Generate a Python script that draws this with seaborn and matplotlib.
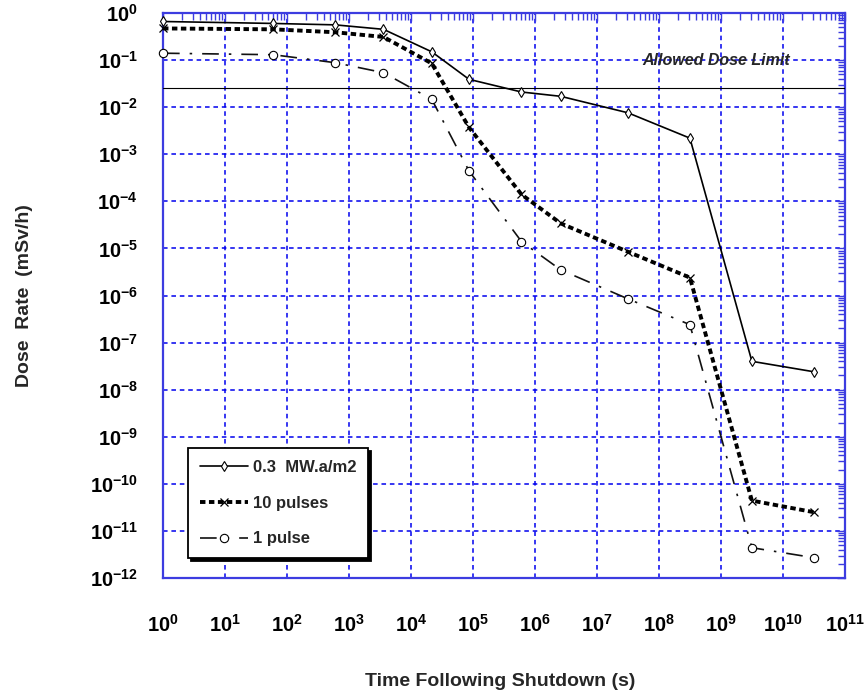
import numpy as np
import pandas as pd
import matplotlib
matplotlib.use("Agg")
import matplotlib.pyplot as plt
import matplotlib.ticker as mticker
import seaborn as sns

# ---------------- data ----------------
time_s = [1, 60, 600, 3600, 21600, 86400, 6.05e5, 2.6e6, 3.15e7, 3.15e8, 3.15e9, 3.15e10]
dose_03mwa = [0.66, 0.60, 0.56, 0.45, 0.15, 0.039, 0.021, 0.017, 0.0076, 0.0022, 4.0e-8, 2.4e-8]
dose_10pulses = [0.47, 0.45, 0.39, 0.31, 0.085, 0.0037, 1.4e-4, 3.4e-5, 8.5e-6, 2.4e-6, 4.4e-11, 2.5e-11]
dose_1pulse = [0.14, 0.13, 0.088, 0.054, 0.0147, 4.4e-4, 1.4e-5, 3.5e-6, 8.5e-7, 2.4e-7, 4.4e-12, 2.7e-12]
series_labels = ["0.3  MW.a/m2", "10 pulses", "1 pulse"]
dose_limit = 0.025
limit_label = "Allowed Dose Limit"
x_exponents = list(range(0, 12))
y_exponents = list(range(-12, 1))
x_title = "Time Following Shutdown (s)"
y_title = "Dose  Rate  (mSv/h)"

# ---------------- style ----------------
sns.set_style("white")
plt.rcParams["font.family"] = ["Liberation Sans", "DejaVu Sans"]
plt.rcParams["font.weight"] = "bold"
plt.rcParams["mathtext.fontset"] = "custom"
plt.rcParams["mathtext.rm"] = "Liberation Sans:bold"
plt.rcParams["mathtext.bf"] = "Liberation Sans:bold"
plt.rcParams["mathtext.it"] = "Liberation Sans:bold:italic"

spine_blue = "#3c3ce0"
grid_blue = "#0000ee"

fig = plt.figure(figsize=(8.65, 6.98), dpi=100)
ax = fig.add_axes([163 / 865, 1 - 578 / 698, (845 - 163) / 865, (578 - 13) / 698])

df = pd.DataFrame({"t": time_s, "a": dose_03mwa, "b": dose_10pulses, "c": dose_1pulse})

sns.lineplot(data=df, x="t", y="a", ax=ax, sort=False, estimator=None,
             color="black", lw=1.2, marker="d", markersize=5.5,
             markerfacecolor="white", markeredgecolor="black", markeredgewidth=0.8,
             label=series_labels[0], clip_on=False, zorder=5)
sns.lineplot(data=df, x="t", y="b", ax=ax, sort=False, estimator=None,
             color="black", lw=2.8, marker="x", markersize=6,
             markeredgecolor="black", markeredgewidth=0.9,
             dashes=False, label=series_labels[1], clip_on=False, zorder=5)
sns.lineplot(data=df, x="t", y="c", ax=ax, sort=False, estimator=None,
             color="#111111", lw=1.2, marker="o", markersize=6,
             markerfacecolor="white", markeredgecolor="black", markeredgewidth=0.8,
             dashes=False, label=series_labels[2], clip_on=False, zorder=5)

lines = ax.get_lines()
lines[1].set_linestyle((0, (1.4, 0.9)))
lines[1].set_dash_capstyle("butt")
lines[2].set_linestyle((0, (10, 6, 1.5, 6)))

ax.axhline(dose_limit, color="black", lw=0.8, zorder=3)
ax.text(10 ** 8.93, 0.1, limit_label, ha="center", va="center",
        fontsize=11.5, fontweight="bold", fontstyle="italic", zorder=6)

ax.set_xscale("log")
ax.set_yscale("log")
ax.set_xlim(1, 1e11)
ax.set_ylim(1e-12, 1)

ax.xaxis.set_major_locator(mticker.FixedLocator([10.0 ** e for e in x_exponents]))
ax.yaxis.set_major_locator(mticker.FixedLocator([10.0 ** e for e in y_exponents]))
ax.xaxis.set_minor_locator(mticker.LogLocator(base=10, subs=np.arange(2, 10), numticks=200))
ax.yaxis.set_minor_locator(mticker.LogLocator(base=10, subs=np.arange(2, 10), numticks=200))
ax.set_xticklabels([r"$\mathbf{10^{%d}}$" % e for e in x_exponents])
ax.set_yticklabels([r"$\mathbf{10^{%d}}$" % e for e in y_exponents])

ax.tick_params(axis="both", which="both", direction="in", top=True, right=True,
               color=spine_blue, labelcolor="black")
ax.tick_params(axis="both", which="major", length=6, width=1.0, labelsize=14.5)
ax.tick_params(axis="both", which="minor", length=5, width=1.0)
ax.tick_params(axis="x", which="major", pad=26)
ax.tick_params(axis="y", which="major", pad=18)

ax.grid(True, which="major", color=grid_blue, lw=1.1, linestyle=(0, (3, 2.5)))
ax.grid(False, which="minor")
for s in ax.spines.values():
    s.set_color(spine_blue)
    s.set_linewidth(1.6)
    s.set_visible(True)

ax.set_xlabel(x_title, fontsize=14, fontweight="bold")
ax.set_ylabel(y_title, fontsize=14, fontweight="bold")
ax.xaxis.set_label_coords(0.494, -0.169)
ax.yaxis.set_label_coords(-0.191, 0.5)

leg = ax.legend(loc="upper left", bbox_to_anchor=(0.0367, 0.230), borderaxespad=0,
                frameon=True, fancybox=False, shadow={"color": "black", "alpha": 1.0},
                fontsize=12, handlelength=2.9, handletextpad=0.3,
                labelspacing=1.25, borderpad=0.7, numpoints=1)
leg.get_frame().set_edgecolor("black")
leg.get_frame().set_linewidth(1.3)
leg.get_frame().set_facecolor("white")
for t in leg.get_texts():
    t.set_fontweight("bold")

fig.savefig("out.png", dpi=100)
